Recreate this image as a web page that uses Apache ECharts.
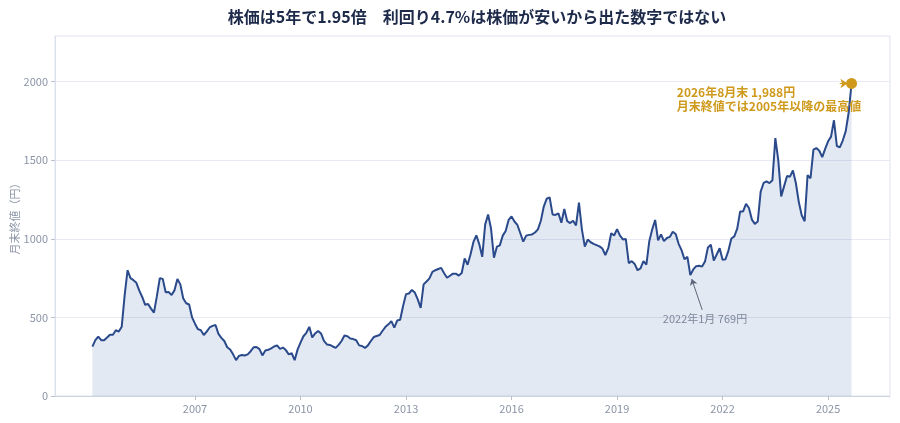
<!DOCTYPE html>
<html>
<head>
<meta charset="utf-8">
<script src="https://cdn.jsdelivr.net/npm/echarts@6/dist/echarts.min.js"></script>
<style>
html,body{margin:0;padding:0;background:#fff;}
#chart{width:900px;height:423px;}
</style>
</head>
<body>
<div id="chart"></div>
<script>
// ---- data (monthly closes, yen) ----
const titleText = '株価は5年で1.95倍　利回り4.7%は株価が安いから出た数字ではない';
const yAxisName = '月末終値（円）';
const startYear = 2005;   // first month: 2005-01
const startMonth = 1;
const monthlyClose = [
  314, 355, 378, 355, 355, 372, 390, 390, 418, 410, 440, 640,
  800, 750, 737, 720, 670, 630, 580, 585, 556, 530, 635, 750,
  745, 660, 662, 642, 672, 745, 710, 620, 590, 582, 500, 460,
  425, 418, 388, 410, 436, 446, 452, 395, 370, 350, 310, 296,
  265, 228, 255, 261, 258, 265, 285, 310, 312, 298, 258, 290,
  294, 303, 315, 322, 300, 308, 292, 265, 272, 228, 295, 340,
  380, 402, 440, 372, 398, 414, 398, 350, 328, 325, 315, 306,
  325, 350, 385, 380, 366, 362, 355, 322, 318, 306, 322, 350,
  375, 382, 388, 415, 440, 456, 476, 435, 480, 485, 572, 648,
  652, 675, 658, 615, 560, 710, 728, 748, 790, 800, 808, 815,
  781, 752, 765, 778, 778, 766, 782, 875, 835, 900, 980, 1022,
  965, 885, 1090, 1155, 1065, 880, 950, 958, 1020, 1050, 1120, 1142,
  1110, 1088, 1035, 982, 1020, 1025, 1028, 1040, 1060, 1115, 1205, 1255,
  1263, 1155, 1152, 1162, 1102, 1190, 1112, 1100, 1115, 1085, 1230, 1060,
  950, 995, 978, 968, 960, 952, 938, 897, 940, 1035, 1021, 1062,
  1020, 996, 998, 845, 858, 840, 800, 812, 858, 836, 985, 1060,
  1120, 990, 1028, 985, 1005, 1012, 1045, 1030, 968, 928, 870, 885,
  769, 805, 826, 828, 823, 855, 945, 962, 862, 900, 940, 866,
  870, 925, 1002, 1015, 1065, 1174, 1174, 1222, 1196, 1122, 1095, 1110,
  1300, 1355, 1365, 1354, 1372, 1640, 1500, 1270, 1335, 1400, 1395, 1435,
  1355, 1235, 1150, 1112, 1405, 1385, 1567, 1577, 1560, 1520, 1572, 1620,
  1650, 1754, 1590, 1582, 1625, 1683, 1800, 1988
];
// x-axis tick labels, and where the reference puts each (each year label sits at the following Jan 1)
const tickLabels = ['2007', '2010', '2013', '2016', '2019', '2022', '2025'];
const tickPositions = [2008, 2011, 2014, 2017, 2020, 2023, 2026];
const yTicks = [0, 500, 1000, 1500, 2000];
const lowNote = '2022年1月 769円';
const lowMonth = '2022-01';
const highNote = '2026年8月末 1,988円\n月末終値では2005年以降の最高値';

// ---- build series: x = month-end as decimal year ----
const monthLabels = [];
const seriesData = [];
monthlyClose.forEach((v, i) => {
  const m0 = startMonth - 1 + i;
  const y = startYear + Math.floor(m0 / 12);
  const m = (m0 % 12) + 1;
  monthLabels.push(y + '-' + String(m).padStart(2, '0'));
  seriesData.push([y + m / 12, v]);
});
const lowIdx = monthLabels.indexOf(lowMonth);
const lowPt = seriesData[lowIdx];
const lastPt = seriesData[seriesData.length - 1];

const gold = '#cf9a1c';
const font = '"Noto Sans CJK JP", "Noto Sans", sans-serif';
const axisGray = '#8b94a6';

const chart = echarts.init(document.getElementById('chart'), null, {renderer: 'canvas'});
chart.setOption({
  animation: false,
  textStyle: {fontFamily: font},
  title: {
    text: titleText,
    left: 472, top: 4, textAlign: 'center',
    textStyle: {fontSize: 16, fontWeight: 'bold', color: '#1d2a4a', fontFamily: font}
  },
  grid: {
    left: 55, right: 10, top: 36, bottom: 27,
    outerBoundsMode: 'none', containLabel: false,
    show: true, borderColor: '#dde2ea', borderWidth: 1, backgroundColor: 'transparent'
  },
  xAxis: {
    type: 'value',
    min: 2004.02, max: 2027.76,
    axisLine: {show: true, lineStyle: {color: '#cdd4de'}},
    axisTick: {show: true, customValues: tickPositions, length: 4, lineStyle: {color: '#b9c1cd'}},
    axisLabel: {
      customValues: tickPositions,
      color: axisGray, fontSize: 11, margin: 7,
      formatter: v => tickLabels[tickPositions.indexOf(Math.round(v))] || ''
    },
    splitLine: {show: false}
  },
  yAxis: {
    type: 'value',
    min: 0, max: 2290, interval: 500,
    name: yAxisName, nameLocation: 'middle', nameGap: 35, nameMoveOverlap: false,
    nameTextStyle: {color: axisGray, fontSize: 11},
    axisLine: {show: true, lineStyle: {color: '#dde2ea'}},
    axisTick: {show: true, customValues: yTicks, length: 4, lineStyle: {color: '#b9c1cd'}},
    axisLabel: {customValues: yTicks, color: axisGray, fontSize: 11, margin: 7, formatter: v => String(v)},
    splitLine: {lineStyle: {color: '#e7ebf1'}}
  },
  series: [{
    type: 'line',
    data: seriesData,
    showSymbol: false,
    smooth: false,
    lineStyle: {color: '#2a4a8b', width: 2},
    itemStyle: {color: '#2a4a8b'},
    areaStyle: {color: 'rgba(60,100,170,0.2)'},
    z: 3,
    markPoint: {
      silent: true,
      data: [
        {coord: lastPt, symbol: 'circle', symbolSize: 11, itemStyle: {color: gold}, label: {show: false}},
        {coord: [2021.7, 1974], symbol: 'circle', symbolSize: 0,
         label: {show: true, formatter: highNote, position: 'inside', align: 'left', verticalAlign: 'top',
                 color: gold, fontSize: 12, fontWeight: 'bold', lineHeight: 14, fontFamily: font}},
        {coord: [2022.5, 490], symbol: 'circle', symbolSize: 0,
         label: {show: true, formatter: lowNote, position: 'inside', align: 'center', verticalAlign: 'middle',
                 color: '#7d879a', fontSize: 11, fontFamily: font}}
      ]
    },
    markLine: {
      silent: true,
      symbol: ['none', 'arrow'],
      symbolSize: 6,
      label: {show: false},
      data: [
        [{coord: [2022.42, 548], lineStyle: {color: '#5b6578', width: 1, type: 'solid'}},
         {coord: [lowPt[0] + 0.04, lowPt[1] - 25]}],
        [{coord: [2026.33, lastPt[1]], symbolSize: 7, lineStyle: {color: gold, width: 1, type: 'solid'}},
         {coord: [2026.55, lastPt[1]], symbolSize: 7}]
      ]
    }
  }]
});
</script>
</body>
</html>
